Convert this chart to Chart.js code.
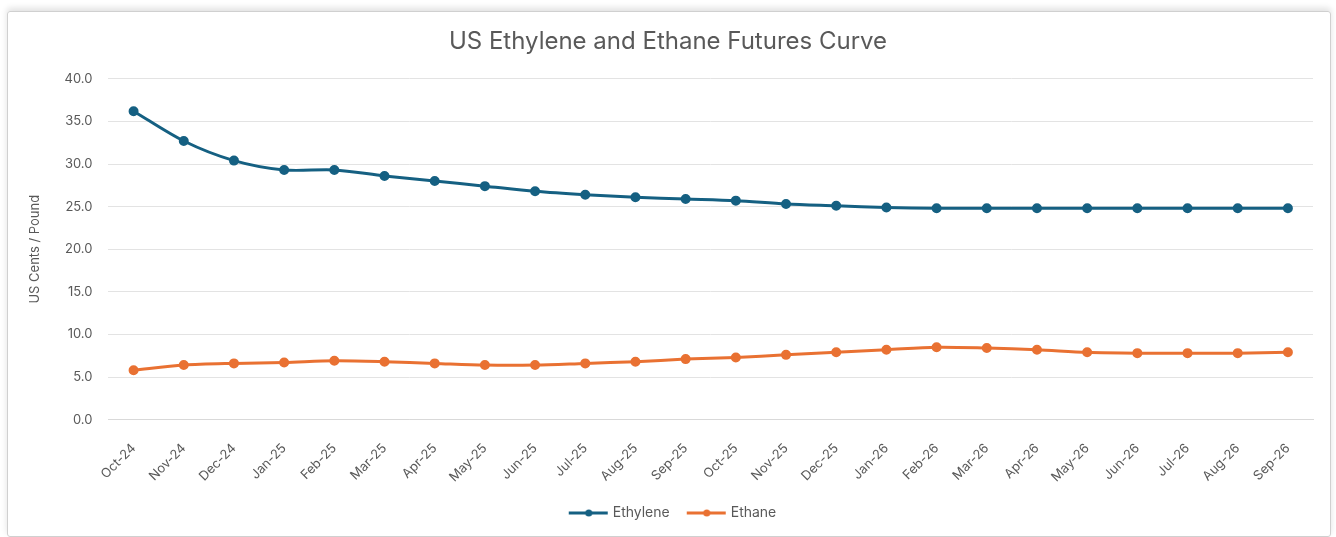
<!DOCTYPE html>
<html>
<head>
<meta charset="utf-8">
<script src="https://cdn.jsdelivr.net/npm/chart.js@4.4.1/dist/chart.umd.min.js"></script>
<style>
  html, body { margin: 0; padding: 0; background: #fff; }
  #wrap { position: relative; width: 1336px; height: 537px; }
  #frame { position: absolute; left: 7px; top: 11px; width: 1322px; height: 524px;
           border: 1px solid #d0d0d0; border-radius: 3px; box-shadow: 0 -3px 6px rgba(0,0,0,0.12); }
  canvas { position: absolute; left: 0; top: 0; }
</style>
</head>
<body>
<div id="wrap">
  <div id="frame"></div>
  <canvas id="chart" width="1336" height="537"></canvas>
</div>
<script>
const months = ['Oct-24', 'Nov-24', 'Dec-24', 'Jan-25', 'Feb-25', 'Mar-25', 'Apr-25', 'May-25',
    'Jun-25', 'Jul-25', 'Aug-25', 'Sep-25', 'Oct-25', 'Nov-25', 'Dec-25', 'Jan-26',
    'Feb-26', 'Mar-26', 'Apr-26', 'May-26', 'Jun-26', 'Jul-26', 'Aug-26', 'Sep-26'];
const ethylene = [36.2, 32.7, 30.4, 29.3, 29.3, 28.6, 28.0, 27.4, 26.8, 26.4, 26.1, 25.9,
    25.7, 25.3, 25.1, 24.9, 24.8, 24.8, 24.8, 24.8, 24.8, 24.8, 24.8, 24.8];
const ethane = [5.8, 6.4, 6.6, 6.7, 6.9, 6.8, 6.6, 6.4, 6.4, 6.6, 6.8, 7.1,
    7.3, 7.6, 7.9, 8.2, 8.5, 8.4, 8.2, 7.9, 7.8, 7.8, 7.8, 7.9];

const blue = '#156082';
const orange = '#e97132';
const grey = '#595959';
const fontFamily = 'Inter, "Open Sans", sans-serif';

// line+marker icon for the legend, like the Excel one.
// drawn in the right part of a wider canvas so the text sits close to it
function legendIcon(color) {
    const c = document.createElement('canvas');
    c.width = 52;
    c.height = 10;
    const g = c.getContext('2d');
    g.strokeStyle = color;
    g.lineWidth = 3;
    g.beginPath();
    g.moveTo(12, 5);
    g.lineTo(51, 5);
    g.stroke();
    g.fillStyle = color;
    g.beginPath();
    g.arc(32, 5, 3.5, 0, Math.PI * 2);
    g.fill();
    return c;
}
const icons = [legendIcon(blue), legendIcon(orange)];

const ctx = document.getElementById('chart').getContext('2d');
new Chart(ctx, {
    type: 'line',
    data: {
        labels: months,
        datasets: [
            {
                label: 'Ethylene',
                data: ethylene,
                borderColor: blue,
                backgroundColor: blue,
                borderWidth: 3,
                pointRadius: 3.5,
                pointHoverRadius: 3.5,
                tension: 0.3,
            },
            {
                label: 'Ethane',
                data: ethane,
                borderColor: orange,
                backgroundColor: orange,
                borderWidth: 3,
                pointRadius: 3.5,
                pointHoverRadius: 3.5,
                tension: 0.3,
            },
        ],
    },
    options: {
        responsive: false,
        animation: false,
        layout: {
            padding: { left: 23, right: 23, top: 22, bottom: 7 },
        },
        plugins: {
            title: {
                display: true,
                text: 'US Ethylene and Ethane Futures Curve',
                color: grey,
                font: { family: fontFamily, size: 24, weight: 'normal' },
                padding: { top: 5, bottom: 23 },
            },
            legend: {
                position: 'bottom',
                labels: {
                    color: grey,
                    font: { family: fontFamily, size: 14 },
                    usePointStyle: true,
                    pointStyleWidth: 46,
                    padding: 8,
                    generateLabels: function(chart) {
                        const items = Chart.defaults.plugins.legend.labels.generateLabels(chart);
                        items.forEach((item, i) => { item.pointStyle = icons[i]; });
                        return items;
                    },
                },
            },
            tooltip: { enabled: false },
        },
        scales: {
            x: {
                offset: true,
                grid: { display: false },
                border: { color: '#d9d9d9' },
                ticks: {
                    color: grey,
                    padding: 13,
                    font: { family: fontFamily, size: 13 },
                    minRotation: 45,
                    maxRotation: 45,
                    autoSkip: false,
                },
            },
            y: {
                min: 0,
                max: 40,
                border: { display: false },
                grid: { color: '#e3e3e3', drawTicks: false },
                ticks: {
                    stepSize: 5,
                    color: grey,
                    padding: 16,
                    font: { family: fontFamily, size: 13 },
                    callback: function(value) {
                        return value.toFixed(1);
                    },
                },
                title: {
                    display: true,
                    text: 'US Cents / Pound',
                    color: grey,
                    font: { family: fontFamily, size: 13 },
                    padding: { top: 4, bottom: 6 },
                },
            },
        },
    },
});
</script>
</body>
</html>
